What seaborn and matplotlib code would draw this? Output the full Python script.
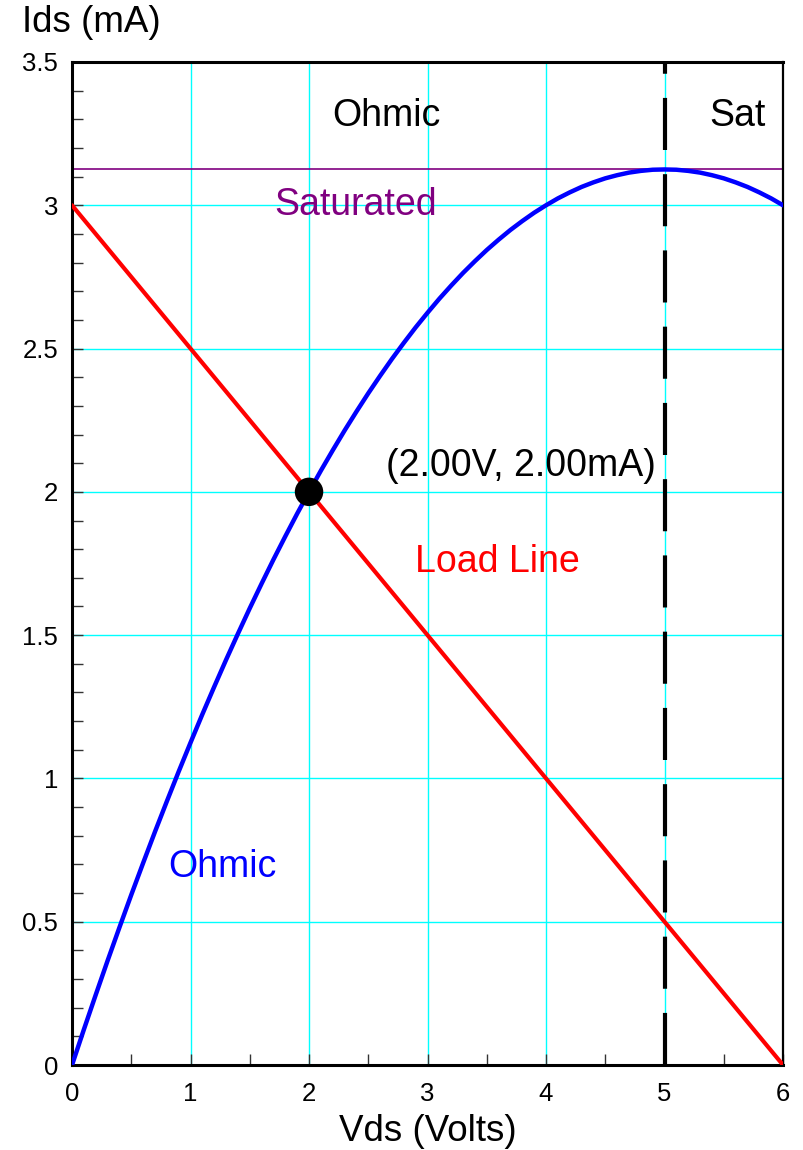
import matplotlib
matplotlib.use("Agg")
import matplotlib.pyplot as plt
from matplotlib.ticker import MultipleLocator, FixedLocator
import seaborn as sns
import pandas as pd

# Ohmic-region drain characteristic (Vds in V, Ids in mA)
vds_curve = [0.0, 0.1, 0.2, 0.3, 0.4, 0.5, 0.6, 0.7, 0.8, 0.9, 1.0,
             1.1, 1.2, 1.3, 1.4, 1.5, 1.6, 1.7, 1.8, 1.9, 2.0,
             2.1, 2.2, 2.3, 2.4, 2.5, 2.6, 2.7, 2.8, 2.9, 3.0,
             3.1, 3.2, 3.3, 3.4, 3.5, 3.6, 3.7, 3.8, 3.9, 4.0,
             4.1, 4.2, 4.3, 4.4, 4.5, 4.6, 4.7, 4.8, 4.9, 5.0,
             5.1, 5.2, 5.3, 5.4, 5.5, 5.6, 5.7, 5.8, 5.9, 6.0]
ids_curve = [0.0, 0.124, 0.245, 0.364, 0.480, 0.594, 0.705, 0.814, 0.920, 1.024, 1.125,
             1.224, 1.320, 1.414, 1.505, 1.594, 1.680, 1.764, 1.845, 1.924, 2.0,
             2.074, 2.145, 2.214, 2.280, 2.344, 2.405, 2.464, 2.520, 2.574, 2.625,
             2.674, 2.720, 2.764, 2.805, 2.844, 2.880, 2.914, 2.945, 2.974, 3.0,
             3.024, 3.045, 3.064, 3.080, 3.094, 3.105, 3.114, 3.120, 3.124, 3.125,
             3.124, 3.120, 3.114, 3.105, 3.094, 3.080, 3.064, 3.045, 3.024, 3.0]

# Load line end points
load_vds = [0.0, 6.0]
load_ids = [3.0, 0.0]

# Operating point
q_vds = [2.0]
q_ids = [2.0]

# Saturation current and the ohmic/saturation boundary
sat_ids = 3.125
sat_vds = 5.0

x_ticks = [0, 1, 2, 3, 4, 5, 6]
y_ticks = [0, 0.5, 1, 1.5, 2, 2.5, 3, 3.5]
y_tick_labels = ["0", "0.5", "1", "1.5", "2", "2.5", "3", "3.5"]

sns.set_style("white")
plt.rcParams["font.family"] = ["Liberation Sans", "DejaVu Sans"]
plt.rcParams["text.color"] = "black"

fig = plt.figure(figsize=(8.04, 11.5), dpi=100)
ax = fig.add_axes([0.0896, 0.0739, 0.8843, 0.8722])

curve_df = pd.DataFrame({"Vds": vds_curve, "Ids": ids_curve})
load_df = pd.DataFrame({"Vds": load_vds, "Ids": load_ids})

ax.grid(True, which="major", color="#00FFFF", linewidth=1.0)
ax.set_axisbelow(True)

ax.axhline(sat_ids, color="#800080", linewidth=1.2, zorder=2)

sns.lineplot(data=load_df, x="Vds", y="Ids", color="#FF0000", linewidth=3.0,
             ax=ax, zorder=3)
sns.lineplot(data=curve_df, x="Vds", y="Ids", color="#0000FF", linewidth=3.2,
             ax=ax, zorder=4)

ax.plot([sat_vds, sat_vds], [0, 3.5], color="black", linewidth=3.0,
        linestyle=(0, (12.5, 5.8)), dash_capstyle="butt", zorder=5)

sns.scatterplot(x=q_vds, y=q_ids, color="black", s=420, edgecolor="none",
                ax=ax, zorder=6)

ax.set_xlim(0, 6)
ax.set_ylim(0, 3.5)
ax.xaxis.set_major_locator(FixedLocator(x_ticks))
ax.yaxis.set_major_locator(FixedLocator(y_ticks))
ax.set_yticklabels(y_tick_labels)
ax.xaxis.set_minor_locator(MultipleLocator(0.5))
ax.yaxis.set_minor_locator(MultipleLocator(0.1))
ax.tick_params(which="both", direction="in", colors="#333333", labelcolor="black",
               labelsize=18.5, width=1.0)
ax.tick_params(which="both", length=8)
ax.tick_params(axis="x", which="both", bottom=True, top=False, pad=12)
ax.tick_params(axis="y", which="both", left=True, right=False, pad=10)

for side in ["left", "bottom", "top"]:
    ax.spines[side].set_linewidth(2.2)
    ax.spines[side].set_color("black")
ax.spines["right"].set_linewidth(1.6)
ax.spines["right"].set_color("black")

ax.set_xlabel("")
ax.set_ylabel("")

fig.text(0.0274, 0.980, "Ids (mA)", fontsize=26.5, color="black", ha="left", va="center")
fig.text(0.532, 0.0165, "Vds (Volts)", fontsize=26.5, color="black", ha="center", va="center")

ax.text(2.65, 3.31, "Ohmic", fontsize=27, color="black", ha="center", va="center")
ax.text(5.62, 3.31, "Sat", fontsize=27, color="black", ha="center", va="center")
ax.text(2.39, 3.0, "Saturated", fontsize=27, color="#800080", ha="center", va="center")
ax.text(3.79, 2.09, f"({q_vds[0]:.2f}V, {q_ids[0]:.2f}mA)", fontsize=27,
        color="black", ha="center", va="center")
ax.text(3.59, 1.755, "Load Line", fontsize=27, color="#FF0000", ha="center", va="center")
ax.text(1.27, 0.69, "Ohmic", fontsize=27, color="#0000FF", ha="center", va="center")

fig.savefig("out.png", dpi=100)
